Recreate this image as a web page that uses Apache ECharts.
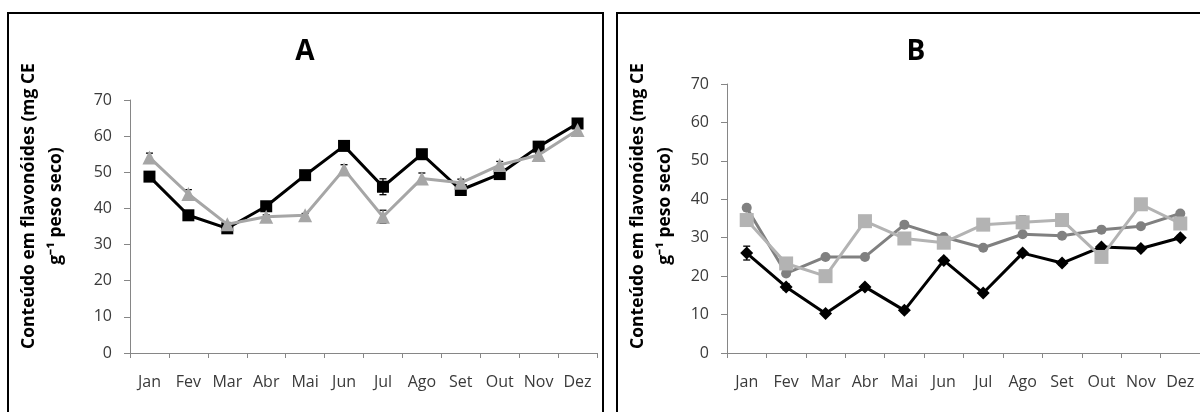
<!DOCTYPE html>
<html><head><meta charset="utf-8">
<script src="https://cdn.jsdelivr.net/npm/echarts/dist/echarts.min.js"></script>
<style>html,body{margin:0;padding:0;background:#fff}#c{width:1200px;height:412px}</style>
</head><body><div id="c"></div>
<script>
const months = ['Jan','Fev','Mar','Abr','Mai','Jun','Jul','Ago','Set','Out','Nov','Dez'];
const yMin = 0, yMax = 70, yStep = 10;
const titleA = 'A', titleB = 'B';
const yTitle1 = 'Conteúdo em flavonóides (mg CE';
const yTitle2 = 'g⁻¹ peso seco)';
// Panel A
const aBlack    = [48.8,38.1,34.5,40.6,49.2,57.3,46.0,55.0,45.1,49.5,57.1,63.5];
const aBlackErr = [1.0,0.6,0.8,0.8,0.6,0.6,2.2,1.0,0.8,1.0,0.8,1.0];
const aGrey     = [54.1,44.0,35.6,37.7,38.1,50.8,37.7,48.3,47.1,52.0,54.8,61.7];
const aGreyErr  = [1.2,1.2,0.5,0.5,0.5,1.3,1.8,1.5,1.0,1.0,0.5,1.5];
// Panel B
const bBlack    = [26.0,17.2,10.3,17.2,11.1,24.1,15.6,26.0,23.4,27.6,27.2,30.0];
const bBlackErr = [1.8,0.8,0.5,0.6,0.6,0.6,0.6,0.6,0.6,0.6,0.6,0.6];
const bCircle   = [37.8,20.7,25.0,25.0,33.4,30.2,27.4,30.9,30.5,32.1,33.0,36.3];
const bSquare   = [34.6,23.3,20.0,34.3,29.8,28.7,33.4,34.0,34.6,25.0,38.7,33.7];
const bSquareErr= [0.5,0.5,0.5,0.5,0.5,0.5,0.5,1.6,0.5,0.5,0.5,0.5];

const FONT = 'Open Sans';
const chart = echarts.init(document.getElementById('c'), null, {renderer:'canvas'});

function errData(vals, errs){ return vals.map((v,i)=>[i, v-errs[i], v+errs[i]]); }
function errSeries(idx, vals, errs){
  return {type:'custom', xAxisIndex:idx, yAxisIndex:idx, z:1, silent:true,
    data: errData(vals, errs),
    renderItem: function(params, api){
      const x = api.coord([api.value(0), api.value(1)]);
      const t = api.coord([api.value(0), api.value(2)]);
      const hw = 3.5;
      const st = {stroke:'#000', lineWidth:1.3};
      return {type:'group', children:[
        {type:'line', shape:{x1:x[0],y1:x[1],x2:t[0],y2:t[1]}, style:st},
        {type:'line', shape:{x1:t[0]-hw,y1:t[1],x2:t[0]+hw,y2:t[1]}, style:st},
        {type:'line', shape:{x1:x[0]-hw,y1:x[1],x2:x[0]+hw,y2:x[1]}, style:st}
      ]};
    }};
}
function xAx(idx){
  return {type:'category', gridIndex:idx, data:months, boundaryGap:true,
    axisLine:{lineStyle:{color:'#868686', width:1}},
    axisTick:{show:true, length:5, lineStyle:{color:'#868686'}},
    axisLabel:{interval:0, color:'#3a3a3a', fontFamily:FONT, fontSize:16, margin:21},
    splitLine:{show:false}};
}
function yAx(idx){
  return {type:'value', gridIndex:idx, min:yMin, max:yMax, interval:yStep,
    axisLine:{show:true, lineStyle:{color:'#868686', width:1}},
    axisTick:{show:true, length:6, lineStyle:{color:'#868686'}},
    axisLabel:{color:'#3a3a3a', fontFamily:FONT, fontSize:16, margin:18},
    splitLine:{show:false}};
}
function yTitle(cx){
  return [
    {type:'text', x:cx, y:206, rotation:Math.PI/2, z:10,
     style:{text:yTitle1, fontFamily:FONT, fontWeight:'bold', fontSize:17.5, fill:'#000', align:'center', verticalAlign:'middle'}},
    {type:'text', x:cx+27, y:206, rotation:Math.PI/2, z:10,
     style:{text:yTitle2, fontFamily:FONT, fontWeight:'bold', fontSize:17.5, fill:'#000', align:'center', verticalAlign:'middle'}}
  ];
}

const option = {
  animation:false,
  backgroundColor:'#fff',
  grid:[
    {left:130, top:100, width:467, height:253, containLabel:false},
    {left:727, top:84, width:478, height:269, containLabel:false}
  ],
  xAxis:[xAx(0), xAx(1)],
  yAxis:[yAx(0), yAx(1)],
  graphic:[
    {type:'rect', shape:{x:8, y:13, width:595, height:420}, style:{fill:'none', stroke:'#000', lineWidth:2}, z:0},
    {type:'rect', shape:{x:617, y:13, width:620, height:420}, style:{fill:'none', stroke:'#000', lineWidth:2}, z:0},
    {type:'text', x:305, y:52, style:{text:titleA, fontFamily:FONT, fontWeight:'bold', fontSize:28, fill:'#000', align:'center', verticalAlign:'middle'}},
    {type:'text', x:916, y:52, style:{text:titleB, fontFamily:FONT, fontWeight:'bold', fontSize:28, fill:'#000', align:'center', verticalAlign:'middle'}}
  ].concat(yTitle(29), yTitle(638)),
  series:[
    errSeries(0, aBlack, aBlackErr),
    errSeries(0, aGrey, aGreyErr),
    {type:'line', xAxisIndex:0, yAxisIndex:0, data:aBlack, z:2,
     symbol:'rect', symbolSize:12, lineStyle:{color:'#000', width:3}, itemStyle:{color:'#000'}},
    {type:'line', xAxisIndex:0, yAxisIndex:0, data:aGrey, z:3,
     symbol:'triangle', symbolSize:14, lineStyle:{color:'#a6a6a6', width:3}, itemStyle:{color:'#a6a6a6'}},
    errSeries(1, bBlack, bBlackErr),
    errSeries(1, bSquare, bSquareErr),
    {type:'line', xAxisIndex:1, yAxisIndex:1, data:bBlack, z:2,
     symbol:'diamond', symbolSize:13, lineStyle:{color:'#000', width:3}, itemStyle:{color:'#000'}},
    {type:'line', xAxisIndex:1, yAxisIndex:1, data:bCircle, z:3,
     symbol:'circle', symbolSize:10, lineStyle:{color:'#808080', width:3}, itemStyle:{color:'#808080'}},
    {type:'line', xAxisIndex:1, yAxisIndex:1, data:bSquare, z:4,
     symbol:'rect', symbolSize:14, lineStyle:{color:'#b3b3b3', width:3}, itemStyle:{color:'#b3b3b3'}}
  ]
};
chart.setOption(option);
</script></body></html>
